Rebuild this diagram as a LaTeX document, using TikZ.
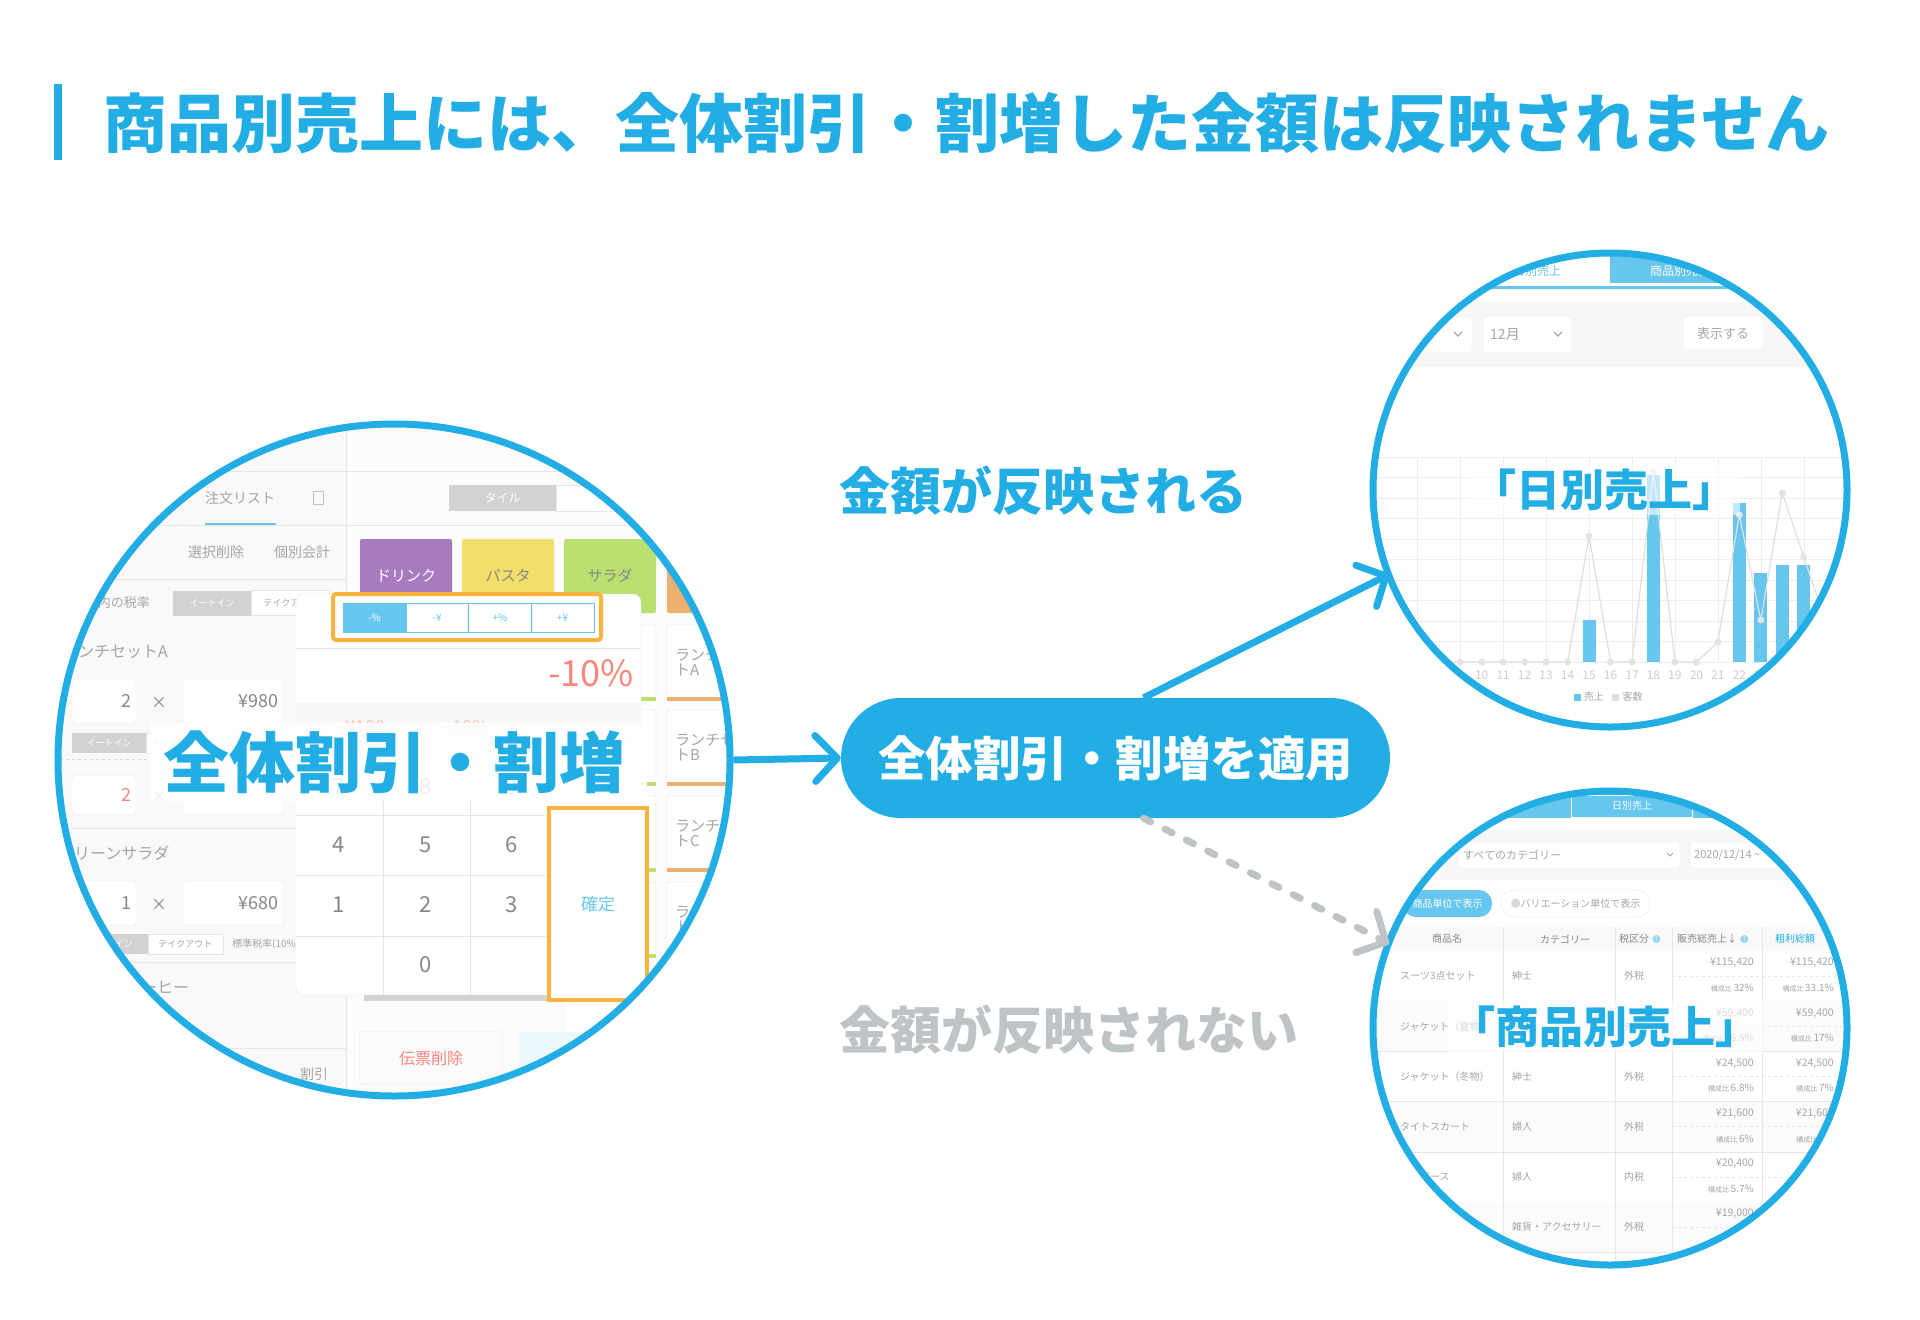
\documentclass[tikz,border=0pt]{standalone}
\usepackage{fontspec}
\setmainfont{Noto Sans CJK JP}
\usepackage{tikz}
\usetikzlibrary{arrows.meta,shapes,positioning}
\definecolor{kblue}{RGB}{34,174,228}
\definecolor{lblue}{RGB}{102,198,238}
\definecolor{kgray}{RGB}{190,195,197}
\definecolor{ugray}{RGB}{165,165,165}
\definecolor{ndark}{RGB}{135,135,135}
\definecolor{uline}{RGB}{230,230,230}
\definecolor{korange}{RGB}{252,178,62}
\definecolor{torange}{RGB}{236,176,112}
\definecolor{kred}{RGB}{245,135,125}
\definecolor{tpurple}{RGB}{168,122,192}
\definecolor{tyellow}{RGB}{242,222,104}
\definecolor{tgreen}{RGB}{186,224,112}
\newcommand\kosei[1]{{\fontsize{7}{7}\selectfont 構成比}\,#1}

\begin{document}
\begin{tikzpicture}[x=1pt,y=-1pt,
  ring/.style={draw=kblue,line width=7pt,circle,inner sep=0pt},
  ui/.style={text=ugray,inner sep=0pt,font=\fontsize{#1}{#1}\selectfont},
  ui/.default=12,
  hbig/.style={font=\bfseries\fontsize{#1}{#1}\selectfont,inner sep=0pt},
  qbox/.style={draw=uline,fill=white,rounded corners=3pt,minimum height=#1,inner sep=5pt,align=right,text=ndark,font=\fontsize{18}{18}\selectfont},
  tog/.style={minimum height=20pt,inner sep=0pt,font=\fontsize{9}{9}\selectfont},
  togon/.style={tog,fill=gray!35,text=white},
  togoff/.style={tog,draw=uline,fill=white,text=ugray},
  dd/.style={draw=uline,fill=white,rounded corners=2pt,minimum height=36pt,inner sep=0pt},
  ctile/.style={rounded corners=2pt,minimum width=92pt,minimum height=74pt,inner sep=0pt,font=\fontsize{15}{15}\selectfont},
  key/.style={text=ndark,inner sep=0pt,font=\fontsize{22}{22}\selectfont},
  arr/.style={line width=7pt,-{Straight Barb[length=22pt,width=46pt,round]}}]
\useasboundingbox (0,0) rectangle (1920,1320);
\fill[white] (0,0) rectangle (1920,1320);

% title
\node (B) at (58,122) [fill=kblue,minimum width=8pt,minimum height=76pt,inner sep=0pt] {};
\node (T) at (103,123) [anchor=west,hbig=64,text=kblue] {商品別売上には、全体割引・割増した金額は反映されません};

% left screen
\begin{scope}
\clip (394,760) circle (336);
\fill[gray!5] (40,420) rectangle (346,1100);
\fill[gray!2] (346,420) rectangle (750,1100);
\draw[uline] (40,471) -- (750,471);
\draw[uline] (346,420) -- (346,1100);
\node (n1) at (240,498) [ui=14] {注文リスト};
\draw[lblue,line width=2pt] (205,524) -- (276,524);
\node (n2) at (318,498) [draw=ugray!70,minimum width=10pt,minimum height=13pt,inner sep=0pt] {};
\draw[uline] (40,525) -- (750,525);
\node (n3) at (216,552) [ui=14] {選択削除};
\node (n4) at (302,552) [ui=14] {個別会計};
\draw[uline] (40,579) -- (346,579);
\node (n5) at (150,603) [ui=13,anchor=east] {店内の税率};
\node (g1) at (212,603) [togon,minimum width=78pt,minimum height=25pt] {イートイン};
\node (g2) [togoff,right=0pt of g1,minimum width=78pt,minimum height=25pt] {テイクアウト};
\node (n6) at (62,652) [ui=16,anchor=west] {ランチセットA};
\node (q1) at (104,701) [qbox=44pt,text width=54pt] {2};
\node (x1) at (159,703) [key,font=\fontsize{16}{16}\selectfont] {×};
\node (p1) at (233,701) [qbox=44pt,text width=90pt] {¥980};
\node (g3) at (109,743) [togon,minimum width=74pt] {イートイン};
\node (g4) [togoff,right=0pt of g3,minimum width=64pt] {テイクアウト};
\draw[gray!30,dashed] (60,759) -- (340,759);
\node (q2) at (104,795) [qbox=39pt,text width=54pt,text=kred] {2};
\node (x2) at (159,797) [key,font=\fontsize{16}{16}\selectfont] {×};
\node (p2) at (233,795) [qbox=39pt,text width=90pt] {};
\draw[uline] (40,828) -- (346,828);
\node (n7) at (58,853) [ui=16,anchor=west] {グリーンサラダ};
\node (q3) at (104,903) [qbox=44pt,text width=54pt] {1};
\node (x3) at (159,905) [key,font=\fontsize{16}{16}\selectfont] {×};
\node (p3) at (233,903) [qbox=44pt,text width=90pt] {¥680};
\node (g5) at (110,944) [togon,minimum width=75pt] {イートイン};
\node (g6) [togoff,right=0pt of g5,minimum width=75pt] {テイクアウト};
\node (n8) at (232,944) [ui=10,anchor=west] {標準税率(10\%)};
\draw[uline] (40,962) -- (346,962);
\node (n9) at (125,987) [ui=16,anchor=west] {コーヒー};
\draw[uline] (40,1048) -- (346,1048);
\node (n10) at (314,1074) [ui=14] {割引};
% menu side
\node (s1) at (502.5,498) [togon,minimum width=107pt,minimum height=26pt,font=\fontsize{12}{12}\selectfont] {タイル};
\node (s2) [togoff,right=0pt of s1,minimum width=84pt,minimum height=26pt] {};
\draw[uline] (346,525) -- (750,525);
\node (c1) at (406,576) [ctile,fill=tpurple,text=white] {ドリンク};
\node (c2) at (508,576) [ctile,fill=tyellow,text=ndark] {パスタ};
\node (c3) at (610,576) [ctile,fill=tgreen,text=ndark] {サラダ};
\node (c4) at (713,576) [ctile,fill=torange] {};
\foreach \i/\yy/\t in {1/662/A,2/747/B,3/833/C,4/919/D,5/1005/E}{
  \node (gt\i) at (610,\yy) [ctile,draw=tgreen!60,fill=white] {};
  \draw[tgreen,line width=4pt] (gt\i.south west) -- (gt\i.south east);
  \node (rt\i) at (713,\yy) [ctile,draw=torange!60,fill=white] {};
  \draw[torange,line width=4pt] (rt\i.south west) -- (rt\i.south east);
  \node (rl\i) at (675,\yy) [ui=15,anchor=west,align=left] {ランチセッ\\ト\t};
}
% popup
\node (pop) at (468.5,794.5) [draw=uline,fill=white,rounded corners=8pt,minimum width=345pt,minimum height=401pt] {};
\fill[gray!35] (364,995) rectangle (547,1001);
\node (of) at (467,617) [draw=korange,line width=4pt,rounded corners=3pt,minimum width=268pt,minimum height=46pt] {};
\foreach \i/\t in {0/-\%,1/-¥,2/+\%,3/+¥}
  \node (sg\i) at ({374.4+62.75*\i},617.5) [draw=lblue,fill=white,text=lblue,minimum width=62.75pt,minimum height=29pt,inner sep=0pt,font=\fontsize{10}{10}\selectfont] {\t};
\node (sg0) at (374.4,617.5) [draw=lblue,fill=lblue,text=white,minimum width=62.75pt,minimum height=29pt,inner sep=0pt,font=\fontsize{10}{10}\selectfont] {-\%};
\draw[uline] (296,648) -- (641,648);
\node (pc) at (634,673) [anchor=east,inner sep=0pt,text=kred,font=\fontsize{36}{36}\selectfont] {-10\%};
\fill[gray!6] (296,703) rectangle (641,760);
\node (f1) at (362,727) [ui=18,text=kred!45] {-¥100};
\node (f2) at (468,727) [ui=18,text=kred!45] {-10\%};
\foreach \x in {383,470} \draw[uline] (\x,760) -- (\x,995);
\foreach \y in {815,875,936} \draw[uline] (296,\y) -- (549,\y);
\foreach \k/\x/\y in {7/339/787,8/426/787,9/512/787,4/339/845,5/426/845,6/512/845,1/339/905,2/426/905,3/512/905,0/426/965}
  \node (k\k) at (\x,\y) [key] {\k};
\node (ok) at (598,904) [draw=korange,line width=4pt,fill=white,minimum width=98pt,minimum height=192pt,text=lblue,font=\fontsize{17}{17}\selectfont] {確定};
\node (dl) at (431,1058) [draw=uline,fill=gray!3,rounded corners=3pt,minimum width=143pt,minimum height=53pt,text=kred,font=\fontsize{16}{16}\selectfont] {伝票削除};
\fill[lblue!12] (519,1032) rectangle (740,1085);
% band
\fill[white,opacity=0.85] (150,723) rectangle (647,801);
\node (K) at (394,762) [hbig=66,text=kblue] {全体割引・割増};
\end{scope}
\node (C1) at (394,760) [ring,minimum size=672pt] {};

% daily chart
\begin{scope}
\clip (1610,490) circle (237);
\fill[lblue] (1610,250) rectangle (1850,283);
\node (t1) at (1537,271) [ui=12,text=lblue] {日別売上};
\node (t2) at (1680,271) [ui=12,text=white] {商品別売上};
\draw[lblue,line width=3pt] (1370,287) -- (1850,287);
\fill[gray!6] (1370,302) rectangle (1850,367);
\node (d1) at (1421,335) [dd,minimum width=102pt] {};
\draw[ugray,line width=1.2pt] (1454,332) -- (1458,336) -- (1462,332);
\node (d2) at (1527.5,335) [dd,minimum width=89pt] {};
\node (d2t) at (1490,335) [ui=14,anchor=west] {12月};
\draw[ugray,line width=1.2pt] (1554,332) -- (1558,336) -- (1562,332);
\node (d3) at (1723,333.5) [dd,minimum width=80pt,minimum height=33pt,text=ugray,font=\fontsize{13}{13}\selectfont] {表示する};
\foreach \k in {0,...,10} \draw[uline!70] (1370,{457+20.5*\k}) -- (1850,{457+20.5*\k});
\foreach \d in {7,9,...,25} \draw[uline!70] ({1481.7+21.47*(\d-10)},457) -- ({1481.7+21.47*(\d-10)},662);
\foreach \d/\h in {15/620,18/475,22/503,23/573,24/565,25/565}
  \fill[lblue] ({1481.7+21.47*(\d-10)-6.5},\h) rectangle ({1481.7+21.47*(\d-10)+6.5},662);
\draw[gray!25,line width=1.2pt] (1438.8,662)
  \foreach \d/\v in {9/662,10/662,11/662,12/662,13/662,14/662,15/536,16/662,17/662,18/472,19/662,20/662,21/642,22/515,23/620,24/493,25/557,26/620}
  { -- ({1481.7+21.47*(\d-10)},\v) };
\foreach \d/\v in {8/662,9/662,10/662,11/662,12/662,13/662,14/662,15/536,16/662,17/662,18/472,19/662,20/662,21/642,22/515,23/620,24/493,25/557,26/620}
  \fill[gray!22] ({1481.7+21.47*(\d-10)},\v) circle (3.5);
\foreach \d in {8,...,23}
  \node (lab\d) at ({1481.7+21.47*(\d-10)},675) [ui=12,text=gray!40] {\d};
\node (lg1) at (1577,697) [fill=lblue,minimum size=7pt,inner sep=0pt] {};
\node (lg1t) [right=3pt of lg1,ui=10] {売上};
\node (lg2) [right=8pt of lg1t,fill=gray!25,minimum size=7pt,inner sep=0pt] {};
\node (lg2t) [right=3pt of lg2,ui=10] {客数};
\node (D) at (1604,490) [hbig=44,text=kblue,fill=white,fill opacity=0.6,text opacity=1,inner sep=4pt] {「日別売上」};
\end{scope}
\node (C2) at (1610,490) [ring,minimum size=474pt] {};

% item table
\begin{scope}
\clip (1610,1028) circle (237);
\fill[lblue] (1370,790) rectangle (1850,818);
\node (u1) at (1632,806) [draw=white,minimum width=121pt,minimum height=22pt,inner sep=0pt,text=white,font=\fontsize{10}{10}\selectfont] {日別売上};
\fill[gray!6] (1370,830) rectangle (1850,880);
\node (u2) at (1569,855) [dd,minimum width=222pt,minimum height=26pt] {};
\node (u2t) at (1463,855) [ui=11,anchor=west] {すべてのカテゴリー};
\draw[ugray,line width=1pt] (1667,853) -- (1670,856) -- (1673,853);
\node (u3) at (1745,855) [dd,minimum width=110pt,minimum height=26pt] {};
\node (u3t) at (1694,855) [ui=11,anchor=west] {2020/12/14 \textasciitilde};
\node (v1) at (1447.5,903.5) [fill=lblue,rounded corners=13pt,minimum width=89pt,minimum height=27pt,inner sep=0pt,text=white,font=\fontsize{10}{10}\selectfont] {商品単位で表示};
\node (v2) at (1575.5,903.5) [draw=uline,rounded corners=13pt,minimum width=149pt,minimum height=27pt,inner sep=0pt,text=ugray,font=\fontsize{10}{10}\selectfont] {{\color{gray!30}●}バリエーション単位で表示};
\fill[gray!5] (1370,927) rectangle (1850,951);
\node (h1) at (1447,939) [ui=10,text=ndark] {商品名};
\node (h2) at (1565,939) [ui=10,text=ndark] {カテゴリー};
\node (h3) at (1634,939) [ui=10,text=ndark] {税区分};
\node (h3q) [right=3pt of h3,circle,fill=lblue!70,minimum size=8pt,inner sep=0pt,text=white,font=\fontsize{6}{6}\selectfont] {?};
\node (h4) at (1707,939) [ui=10,text=ndark] {販売総売上↓};
\node (h4q) [right=3pt of h4,circle,fill=lblue!70,minimum size=8pt,inner sep=0pt,text=white,font=\fontsize{6}{6}\selectfont] {?};
\node (h5) at (1795,939) [ui=10,text=kblue] {粗利総額};
\foreach \r/\a/\b/\c/\m/\p/\n/\q in {
  0/スーツ3点セット/紳士/外税/{¥115,420}/\kosei{32\%}/{¥115,420}/\kosei{33.1\%},
  1/ジャケット（夏物）/紳士/外税/{¥59,400}/\kosei{16.5\%}/{¥59,400}/\kosei{17\%},
  2/ジャケット（冬物）/紳士/外税/{¥24,500}/\kosei{6.8\%}/{¥24,500}/\kosei{7\%},
  3/タイトスカート/婦人/外税/{¥21,600}/\kosei{6\%}/{¥21,600}/\kosei{6\%},
  4/ワンピース/婦人/内税/{¥20,400}/\kosei{5.7\%}/{}/{},
  5/{}/雑貨・アクセサリー/外税/{¥19,000}/{}/{}/{}}{
  \pgfmathsetmacro\yt{951+50.2*\r}
  \ifodd\r \fill[gray!3] (1370,\yt) rectangle (1850,\yt+50.2); \fi
  \draw[uline] (1370,\yt+50.2) -- (1850,\yt+50.2);
  \draw[uline,dashed] (1672,\yt+25) -- (1850,\yt+25);
  \node (ra\r) at (1400,\yt+25) [ui=10,anchor=west] {\a};
  \node (rb\r) at (1512,\yt+25) [ui=10,anchor=west] {\b};
  \node (rc\r) at (1624,\yt+25) [ui=10,anchor=west] {\c};
  \node (rm\r) at (1754,\yt+12) [ui=10.5,anchor=east] {\m};
  \node (rp\r) at (1754,\yt+37) [ui=10,anchor=east] {\p};
  \node (rn\r) at (1834,\yt+12) [ui=10.5,anchor=east] {\n};
  \node (rq\r) at (1834,\yt+37) [ui=10,anchor=east] {\q};
}
\foreach \x in {1503,1615,1672,1762} \draw[uline] (\x,927) -- (\x,1270);
\node (S) at (1605,1027) [hbig=44,text=kblue,fill=white,fill opacity=0.6,text opacity=1,inner sep=4pt] {「商品別売上」};
\end{scope}
\node (C3) at (1610,1028) [ring,minimum size=474pt] {};

% flow
\node (P) at (1115.5,758) [fill=kblue,rounded corners=60pt,minimum width=549pt,minimum height=120pt,text=white,hbig=47.5] {全体割引・割増を適用};
\node (L1) at (839,491) [anchor=west,hbig=51,text=kblue] {金額が反映される};
\node (L2) at (839,1030) [anchor=west,hbig=51,text=kgray] {金額が反映されない};
\draw[arr,kblue] (C1.east) -- (P.west);
\draw[arr,kblue,shorten >=-4pt] (P.65) -- (C2.201);
\draw[arr,kgray,line cap=round,dash pattern=on 8pt off 16pt,shorten >=-4pt] (P.-65) -- (C3.159);
\end{tikzpicture}
\end{document}
